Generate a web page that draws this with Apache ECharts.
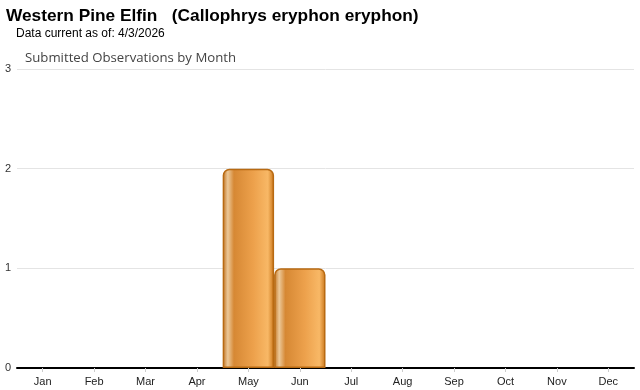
<!DOCTYPE html>
<html><head><meta charset="utf-8">
<script src="https://cdn.jsdelivr.net/npm/echarts@6/dist/echarts.min.js"></script>
<style>html,body{margin:0;padding:0;background:#fff}#c{width:640px;height:390px}</style>
</head><body><div id="c"></div>
<script>
const categories = ['Jan','Feb','Mar','Apr','May','Jun','Jul','Aug','Sep','Oct','Nov','Dec'];
const observations = [0,0,0,0,2,1,0,0,0,0,0,0];
const yTicks = [0,1,2,3];

const chart = echarts.init(document.getElementById('c'));
const grad = new echarts.graphic.LinearGradient(0,0,1,0,[
  {offset:0, color:'#c0701c'},
  {offset:0.1, color:'#ecc898'},
  {offset:0.22, color:'#d68834'},
  {offset:0.6, color:'#eda14c'},
  {offset:0.88, color:'#f8b866'},
  {offset:1, color:'#c87418'}
]);
chart.setOption({
  animation:false,
  title:[
    {text:'Western Pine Elfin   (Callophrys eryphon eryphon)', left:6, top:8, padding:0,
     textStyle:{fontFamily:'Liberation Sans, Arial', fontSize:17.3, fontWeight:'bold', color:'#000'}},
    {text:'Data current as of: 4/3/2026', left:16, top:28, padding:0,
     textStyle:{fontFamily:'Liberation Sans, Arial', fontSize:12, fontWeight:'normal', color:'#000'}},
    {text:'Submitted Observations by Month', left:25, top:52, padding:0,
     textStyle:{fontFamily:'Open Sans', fontSize:13.2, fontWeight:'normal', color:'#444'}}
  ],
  grid:{left:17, right:6, top:69, bottom:22},
  xAxis:{type:'category', data:categories,
    axisLine:{lineStyle:{color:'#000', width:2}},
    axisTick:{show:true, alignWithLabel:true, length:4, lineStyle:{color:'#ccc'}},
    axisLabel:{fontFamily:'Liberation Sans, Arial', fontSize:11, color:'#222', margin:8}},
  yAxis:{type:'value', min:0, max:3, interval:1,
    axisLine:{show:false}, axisTick:{show:false},
    axisLabel:{fontFamily:'Liberation Sans, Arial', fontSize:11, color:'#333', margin:6,
      formatter:v=>yTicks.includes(v)?String(v):''},
    splitLine:{lineStyle:{color:'#e4e4e4'}}},
  series:[{type:'bar', data:observations.map(v=>v===0?null:v), barCategoryGap:'0%', z:1,
    itemStyle:{color:grad, borderColor:'#b86a12', borderWidth:1.5, borderRadius:[6,6,0,0]}}]
});
</script></body></html>
